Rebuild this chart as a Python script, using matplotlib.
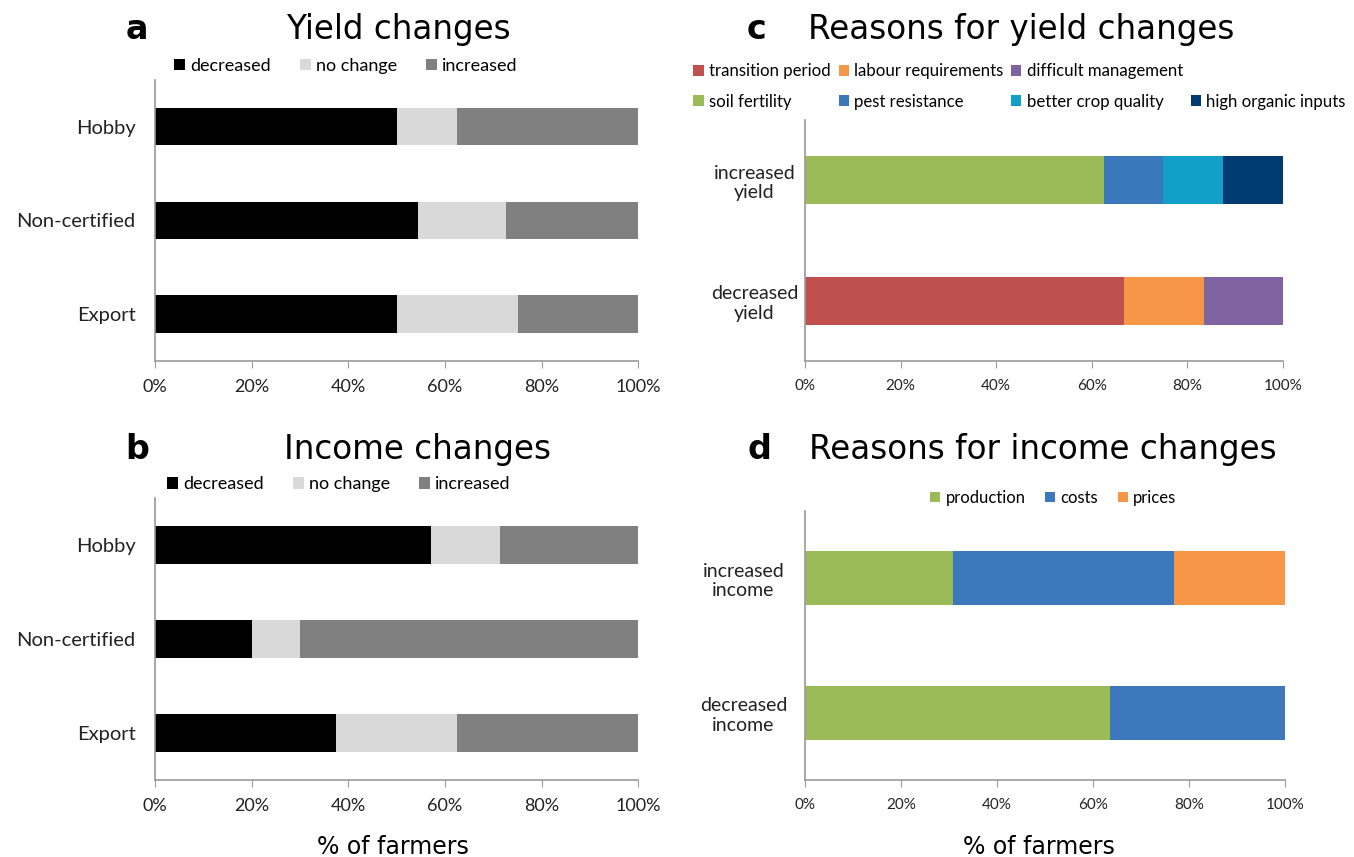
"""
Stacked percentage bar charts: yield / income changes by farm type,
and the reasons given for those changes.
"""

import matplotlib
matplotlib.use("Agg")
import matplotlib.pyplot as plt
from matplotlib.patches import Rectangle
from matplotlib.ticker import PercentFormatter

# Panel a/b: farm types, bottom to top
farm_types = ["Export", "Non-certified", "Hobby"]
change_labels = ["decreased", "no change", "increased"]
change_colors = ["#000000", "#d9d9d9", "#808080"]

yield_decreased = [50.0, 54.5, 50.0]
yield_no_change = [25.0, 18.2, 12.5]
yield_increased = [25.0, 27.3, 37.5]

income_decreased = [37.5, 20.0, 57.1]
income_no_change = [25.0, 10.0, 14.3]
income_increased = [37.5, 70.0, 28.6]

# Panel c: reasons for yield changes
yield_groups = ["decreased\nyield", "increased\nyield"]
yield_reasons = ["transition period", "labour requirements", "difficult management",
                 "soil fertility", "pest resistance", "better crop quality",
                 "high organic inputs"]
yield_reason_colors = ["#c0504d", "#f79646", "#8064a2", "#9bbb59",
                       "#3a78bc", "#12a0c8", "#003a73"]
yield_reason_values = [
    [66.7, 0.0],    # transition period
    [16.7, 0.0],    # labour requirements
    [16.6, 0.0],    # difficult management
    [0.0, 62.5],    # soil fertility
    [0.0, 12.5],    # pest resistance
    [0.0, 12.5],    # better crop quality
    [0.0, 12.5],    # high organic inputs
]

# Panel d: reasons for income changes
income_groups = ["decreased\nincome", "increased\nincome"]
income_reasons = ["production", "costs", "prices"]
income_reason_colors = ["#9bbb59", "#3d78bd", "#f79646"]
income_reason_values = [
    [63.6, 30.8],   # production
    [36.4, 46.1],   # costs
    [0.0, 23.1],    # prices
]

XL_FONT = ["Lato", "DejaVu Sans"]
TITLE_FONT = ["DejaVu Sans"]


def style_axes(ax, tick_size):
    ax.set_xlim(0, 100)
    ax.xaxis.set_major_formatter(PercentFormatter(decimals=0))
    ax.set_xticks(range(0, 101, 20))
    for side in ("top", "right"):
        ax.spines[side].set_visible(False)
    for side in ("left", "bottom"):
        ax.spines[side].set_color("#9a9a9a")
        ax.spines[side].set_linewidth(1.2)
    ax.tick_params(axis="x", length=5, color="#9a9a9a", pad=8,
                   labelsize=tick_size, labelcolor="#222222")
    ax.tick_params(axis="y", length=0, pad=14, labelcolor="#222222")
    for lab in ax.get_xticklabels() + ax.get_yticklabels():
        lab.set_family(XL_FONT)


def stacked(ax, cats, series, colors, labels, height):
    y = list(range(len(cats)))
    left = [0.0] * len(cats)
    handles = []
    for vals, col, lab in zip(series, colors, labels):
        h = ax.barh(y, vals, left=left, color=col, height=height, label=lab)
        handles.append(h)
        left = [a + b for a, b in zip(left, vals)]
    ax.set_yticks(y)
    ax.set_yticklabels(cats)
    ax.set_ylim(-0.5, len(cats) - 0.5)
    return handles


def centre_labels(ax, xpos):
    for lab in ax.get_yticklabels():
        lab.set_horizontalalignment("center")
        lab.set_x(xpos)


fig = plt.figure(figsize=(13.54, 8.57), dpi=100)

ax_a = fig.add_axes([0.1145, 0.579, 0.357, 0.328])
ax_b = fig.add_axes([0.1145, 0.090, 0.357, 0.329])
ax_c = fig.add_axes([0.5945, 0.579, 0.353, 0.281])
ax_d = fig.add_axes([0.5945, 0.090, 0.3545, 0.314])

legend_kw = dict(loc="center", frameon=False, handlelength=0.6,
                 handleheight=0.6, handletextpad=0.3)

# a: yield changes
h_a = stacked(ax_a, farm_types, [yield_decreased, yield_no_change, yield_increased],
              change_colors, change_labels, 0.4)
style_axes(ax_a, 13)
ax_a.tick_params(axis="y", labelsize=14.5)
fig.legend(handles=h_a, bbox_to_anchor=(0.2555, 0.923), ncol=3,
           prop={"family": XL_FONT, "size": 13}, columnspacing=1.6, **legend_kw)

# b: income changes
h_b = stacked(ax_b, farm_types, [income_decreased, income_no_change, income_increased],
              change_colors, change_labels, 0.4)
style_axes(ax_b, 13)
ax_b.tick_params(axis="y", labelsize=14.5)
fig.legend(handles=h_b, bbox_to_anchor=(0.2504, 0.435), ncol=3,
           prop={"family": XL_FONT, "size": 13}, columnspacing=1.6, **legend_kw)

# c: reasons for yield changes
h_c = stacked(ax_c, yield_groups, yield_reason_values, yield_reason_colors,
              yield_reasons, 0.4)
style_axes(ax_c, 11)
ax_c.tick_params(axis="y", labelsize=14)
centre_labels(ax_c, -0.065)
# two legend rows, last entry sits alone in the bottom row of column four
blank = Rectangle((0, 0), 1, 1, alpha=0)
order = [h_c[0], h_c[3], h_c[1], h_c[4], h_c[2], h_c[5], blank, h_c[6]]
names = [yield_reasons[0], yield_reasons[3], yield_reasons[1], yield_reasons[4],
         yield_reasons[2], yield_reasons[5], "", yield_reasons[6]]
fig.legend(order, names, bbox_to_anchor=(0.753, 0.899), ncol=4,
           prop={"family": XL_FONT, "size": 12.1}, columnspacing=0.5,
           labelspacing=0.85, **legend_kw)

# d: reasons for income changes
h_d = stacked(ax_d, income_groups, income_reason_values, income_reason_colors,
              income_reasons, 0.4)
style_axes(ax_d, 11)
ax_d.tick_params(axis="y", labelsize=14)
centre_labels(ax_d, -0.0875)
fig.legend(handles=h_d, bbox_to_anchor=(0.778, 0.419), ncol=3,
           prop={"family": XL_FONT, "size": 12}, columnspacing=1.2, **legend_kw)

# titles and panel letters
titles = [("a", 0.101, 0.965, "Yield changes", 0.294),
          ("b", 0.101, 0.475, "Income changes", 0.308),
          ("c", 0.559, 0.965, "Reasons for yield changes", 0.754),
          ("d", 0.561, 0.475, "Reasons for income changes", 0.770)]
for letter, lx, ty, text, tx in titles:
    fig.text(lx, ty, letter, ha="center", va="center", fontsize=24,
             fontweight="bold", family=TITLE_FONT)
    fig.text(tx, ty, text, ha="center", va="center", fontsize=23.5,
             family=TITLE_FONT)

fig.text(0.290, 0.012, "% of farmers", ha="center", va="center", fontsize=17,
         family=TITLE_FONT)
fig.text(0.767, 0.012, "% of farmers", ha="center", va="center", fontsize=17,
         family=TITLE_FONT)

fig.savefig("out.png", dpi=100, facecolor="white")
